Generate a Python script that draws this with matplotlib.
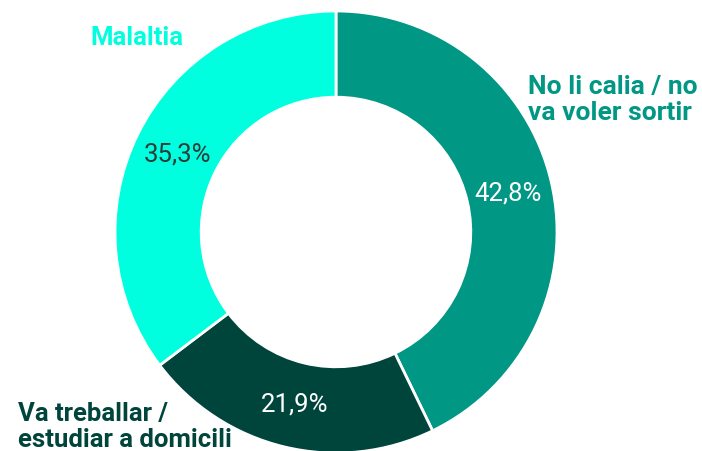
import matplotlib.pyplot as plt

# Motiu per no sortir
categories = ['No li calia / no\nva voler sortir', 'Va treballar /\nestudiar a domicili', 'Malaltia']
values = [42.8, 21.9, 35.3]
colors = ['#009784', '#00453B', '#00FFDF']
pct_colors = ['white', 'white', '#2F3B38']

plt.rcParams['font.family'] = ['Roboto', 'DejaVu Sans']

fig = plt.figure(figsize=(7.02, 4.52), dpi=100)
ax = fig.add_axes([0, 0, 1, 1])

wedges, texts, autotexts = ax.pie(
    values, colors=colors, startangle=90, counterclock=False,
    center=(336, 219), radius=221, pctdistance=0.8,
    autopct=lambda p: f'{p:.1f}%'.replace('.', ','),
    wedgeprops=dict(width=221 * 0.39, edgecolor='white', linewidth=2),
    textprops=dict(fontsize=18.5, fontweight='normal'),
)
for t, c in zip(autotexts, pct_colors):
    t.set_color(c)

# pie() resets the limits, so set them afterwards
ax.set_xlim(0, 702)
ax.set_ylim(0, 452)
ax.set_aspect('equal')
ax.axis('off')

# category labels
ax.text(528, 352, categories[0], color=colors[0], fontsize=19, fontweight='bold',
        ha='left', va='center', linespacing=1.1)
ax.text(18, 25, categories[1], color=colors[1], fontsize=18.5, fontweight='bold',
        ha='left', va='center', linespacing=1.1)
ax.text(90, 414, categories[2], color=colors[2], fontsize=18.5, fontweight='bold',
        ha='left', va='center')

fig.savefig('out.png', dpi=100)
